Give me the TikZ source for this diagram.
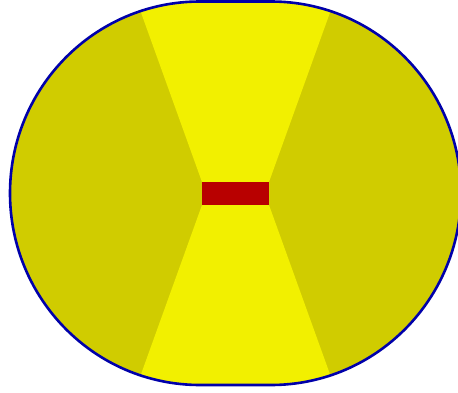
\documentclass[tikz,border=0pt]{standalone}
\definecolor{darkyel}{HTML}{D0CC00}
\definecolor{brightyel}{HTML}{F2F000}
\definecolor{redbox}{HTML}{B80000}
\definecolor{outlineblue}{HTML}{0000AA}
\tikzset{outlinestyle/.style={draw=outlineblue,line width=2.6pt}}
\begin{document}
\begin{tikzpicture}[x=1pt,y=1pt]
\useasboundingbox (0,0) rectangle (458,392);
\clip (0,0) rectangle (458,392);
\def\shapepath{(200,390.5) -- (271,390.5) arc (90:-90:190 and 191.75) -- (200,7) arc (270:90:190 and 191.75) -- cycle}
\begin{scope}
\clip \shapepath;
\fill[darkyel] (0,0) rectangle (470,400);
\fill[brightyel] (133.6,400) -- (202,210) -- (202,187) -- (131,-10) -- (340,-10) -- (269,187) -- (269,210) -- (337.4,400) -- cycle;
\end{scope}
\node[fill=redbox,inner sep=0pt,minimum width=67pt,minimum height=23pt] (core) at (235.5,198.5) {};
\draw[outlinestyle] \shapepath;
\end{tikzpicture}
\end{document}
